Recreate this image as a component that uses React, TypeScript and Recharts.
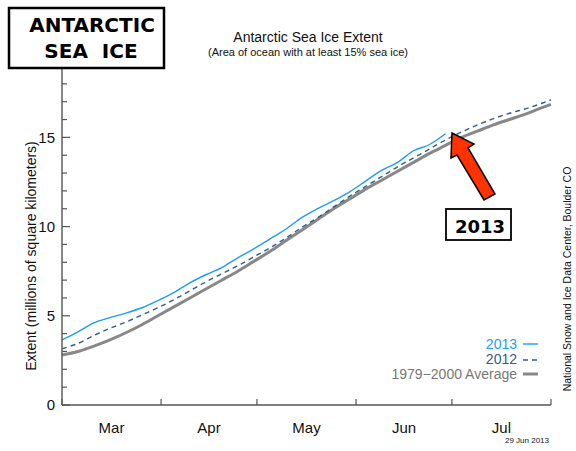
import { Line, LineChart, XAxis, YAxis } from 'recharts';

// day index counted from 1 March
const days = [0, 5, 10, 15, 20, 25, 30, 35, 40, 45, 50, 55, 60, 65, 70, 75, 80, 85, 90, 95, 100, 105, 110, 115, 120, 125, 130, 135, 140, 145, 150, 153];
const ext2013 = [3.65, 4.1, 4.6, 4.9, 5.15, 5.45, 5.85, 6.3, 6.85, 7.3, 7.7, 8.25, 8.75, 9.3, 9.85, 10.5, 11.0, 11.45, 11.95, 12.55, 13.15, 13.6, 14.25, 14.6, 15.2];
const ext2012 = [3.15, 3.45, 3.9, 4.3, 4.65, 5.05, 5.45, 5.9, 6.4, 6.9, 7.35, 7.8, 8.3, 8.8, 9.35, 9.95, 10.5, 11.1, 11.7, 12.25, 12.8, 13.35, 13.85, 14.35, 14.85, 15.3, 15.7, 16.05, 16.35, 16.6, 16.9, 17.1];
const extAvg = [2.8, 3.0, 3.3, 3.65, 4.05, 4.5, 5.0, 5.5, 6.0, 6.5, 7.0, 7.5, 8.05, 8.6, 9.2, 9.8, 10.4, 11.0, 11.55, 12.1, 12.6, 13.1, 13.6, 14.1, 14.55, 15.0, 15.35, 15.7, 16.0, 16.3, 16.65, 16.85];

const monthNames = ['Mar', 'Apr', 'May', 'Jun', 'Jul'];
const monthStarts = [0, 31, 61, 92, 122, 153];
const monthMids = [15.5, 46, 76.5, 107, 137.5];
const yTicks = [0, 1, 2, 3, 4, 5, 6, 7, 8, 9, 10, 11, 12, 13, 14, 15, 16, 17, 18];

const rows = days.map((d, i) => ({
  day: d,
  y2013: ext2013[i] ?? null,
  y2012: ext2012[i],
  avg: extAvg[i],
}));

const FONT = '"Liberation Sans", Arial, sans-serif';
const BOLD = '"DejaVu Sans", sans-serif';
const AXIS = '#555';

function MonthTick({ x, y, payload }: any) {
  const v = payload.value;
  if (monthStarts.includes(v)) {
    return <line x1={x} x2={x} y1={y} y2={y - 6} stroke={AXIS} strokeWidth={1.2} />;
  }
  const i = monthMids.indexOf(v);
  return (
    <text x={x} y={y + 28} textAnchor="middle" fontSize={15} fontFamily={FONT} fill="#111">
      {monthNames[i]}
    </text>
  );
}

function ExtentTick({ x, y, payload }: any) {
  const v = payload.value;
  const major = v % 5 === 0;
  return (
    <g>
      <line x1={x} x2={x + (major ? 8 : 5)} y1={y} y2={y} stroke={AXIS} strokeWidth={1.2} />
      {major && (
        <text x={x - 7} y={y} dy="0.35em" textAnchor="end" fontSize={15} fontFamily={FONT} fill="#111">
          {v}
        </text>
      )}
    </g>
  );
}

export default function App() {
  return (
    <div style={{ position: 'absolute', left: 0, top: 0, width: 576, height: 451, background: '#fff' }}>
      <LineChart width={576} height={451} data={rows} margin={{ top: 66, right: 25, left: 0, bottom: 0 }}>
        <XAxis
          dataKey="day"
          type="number"
          domain={[0, 153]}
          ticks={[...monthStarts, ...monthMids].sort((a, b) => a - b)}
          interval={0}
          tick={MonthTick}
          tickLine={false}
          tickSize={0}
          tickMargin={0}
          height={46}
          axisLine={{ stroke: AXIS, strokeWidth: 1.4 }}
        />
        <YAxis
          type="number"
          domain={[0, 19]}
          ticks={yTicks}
          interval={0}
          tick={ExtentTick}
          tickLine={false}
          tickSize={0}
          tickMargin={0}
          width={62}
          axisLine={{ stroke: AXIS, strokeWidth: 1.4 }}
        />
        <Line dataKey="avg" stroke="#888" strokeWidth={3} dot={false} isAnimationActive={false} type="monotone" />
        <Line dataKey="y2012" stroke="#2f5d8c" strokeWidth={1.4} strokeDasharray="5 4" dot={false} isAnimationActive={false} type="monotone" />
        <Line dataKey="y2013" stroke="#1e9cf5" strokeWidth={1.4} dot={false} isAnimationActive={false} type="monotone" connectNulls={false} />
      </LineChart>
      <svg width={576} height={451} style={{ position: 'absolute', left: 0, top: 0, pointerEvents: 'none' }}>
        <rect x={9} y={8} width={155} height={60} fill="#fff" stroke="#000" strokeWidth={2.5} />
        <text x={92} y={32} textAnchor="middle" fontFamily={BOLD} fontWeight="bold" fontSize={20} fill="#000">ANTARCTIC</text>
        <text x={91} y={58} textAnchor="middle" fontFamily={BOLD} fontWeight="bold" fontSize={20} fill="#000" xmlSpace="preserve">SEA  ICE</text>

        <text x={308} y={42} textAnchor="middle" fontFamily={FONT} fontSize={14} fill="#111">Antarctic Sea Ice Extent</text>
        <text x={308} y={56} textAnchor="middle" fontFamily={FONT} fontSize={11} fill="#111">(Area of ocean with at least 15% sea ice)</text>

        <text transform="translate(36,256) rotate(-90)" textAnchor="middle" fontFamily={FONT} fontSize={14} fill="#111">
          Extent (millions of square kilometers)
        </text>

        <text transform="translate(571,279) rotate(-90)" textAnchor="middle" fontFamily={FONT} fontSize={10.5} fill="#111">
          National Snow and Ice Data Center, Boulder CO
        </text>
        <text x={549} y={443} textAnchor="end" fontFamily={FONT} fontSize={8} fill="#111">29 Jun 2013</text>

        <text x={517} y={349} textAnchor="end" fontFamily={FONT} fontSize={14} fill="#1e9cf5">2013</text>
        <line x1={523} x2={538} y1={344} y2={344} stroke="#1e9cf5" strokeWidth={1.4} />
        <text x={517} y={364} textAnchor="end" fontFamily={FONT} fontSize={14} fill="#2f5d8c">2012</text>
        <line x1={523} x2={538} y1={360} y2={360} stroke="#2f5d8c" strokeWidth={1.4} strokeDasharray="5 4" />
        <text x={517} y={379} textAnchor="end" fontFamily={FONT} fontSize={14} fill="#777">1979−2000 Average</text>
        <line x1={523} x2={538} y1={374} y2={374} stroke="#888" strokeWidth={3} />

        <polygon
          points="452,133 474,144 468,148 495,194 484,200 457,155 451,158"
          fill="#ff3300"
          stroke="#000"
          strokeWidth={1.5}
          strokeLinejoin="miter"
        />
        <rect x={446} y={209} width={65} height={31} fill="#fff" stroke="#000" strokeWidth={1.8} />
        <text x={480} y={233} textAnchor="middle" fontFamily={BOLD} fontWeight="bold" fontSize={18} fill="#000">2013</text>
      </svg>
    </div>
  );
}
